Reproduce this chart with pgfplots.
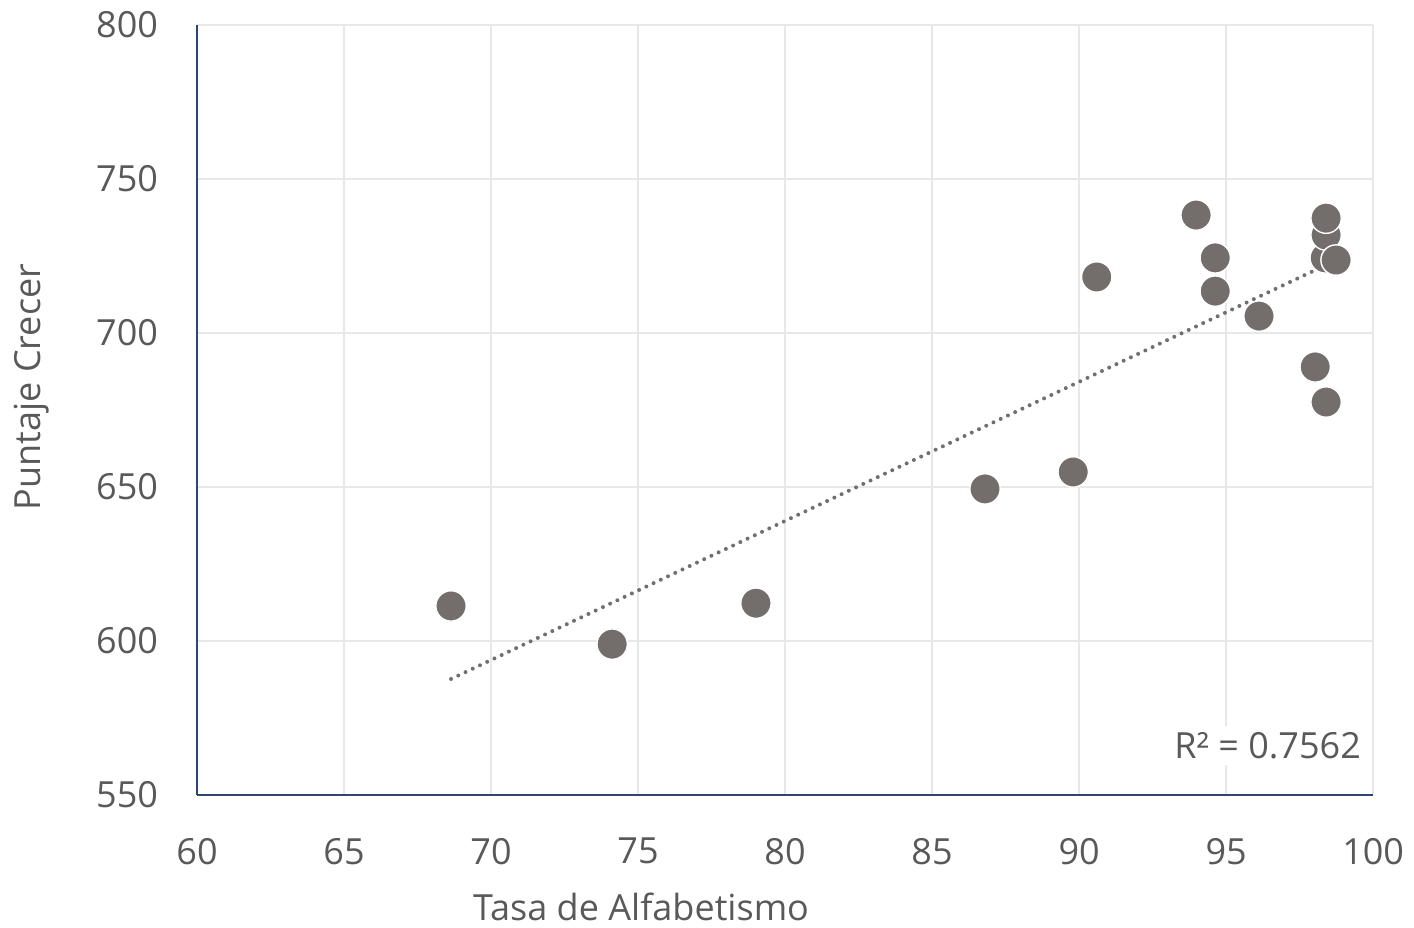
\documentclass[border=0pt]{standalone}
\usepackage{pgfplots}
\pgfplotsset{compat=1.18}
\usepackage{fontspec}
\setmainfont{Open Sans}
\definecolor{txt}{HTML}{595959}
\definecolor{axisblue}{HTML}{2F4675}
\definecolor{gridc}{HTML}{E8E8E8}
\definecolor{markc}{HTML}{736E6C}
\definecolor{trendc}{HTML}{707070}
\begin{document}
\begin{tikzpicture}
\begin{axis}[
  scale only axis,
  width=588pt, height=385pt,
  xmin=60, xmax=100, ymin=550, ymax=800,
  xtick={60,65,...,100}, ytick={550,600,...,800},
  axis x line*=bottom, axis y line*=left,
  axis line style={axisblue, line width=1pt},
  major tick length=0pt,
  grid=major,
  major grid style={gridc, line width=1pt},
  clip=false,
  font=\fontsize{18}{22}\selectfont\color{txt},
  /pgf/number format/assume math mode=true,
  /pgf/number format/1000 sep={},
  xticklabel style={yshift=-18pt},
  yticklabel style={xshift=-16pt},
  xlabel={Tasa de Alfabetismo},
  ylabel={Puntaje Crecer},
  every axis x label/.style={at={(axis description cs:0.3776,-0.1455)}, anchor=center},
  every axis y label/.style={at={(axis description cs:-0.1403,0.53)}, rotate=90, anchor=center},
]
\path (axis cs:53.30,507.14) rectangle (axis cs:101.39,808.12);
\addplot[trendc, line width=2pt, dash pattern=on 0pt off 4pt, line cap=round]
  coordinates {(68.64,587.7) (98.4,722.1)};
\addplot[only marks, mark=*, mark size=7.6pt,
  mark options={fill=markc, draw=white, line width=0.7pt}]
  coordinates {
  (68.64,611.4) (74.12,599.0) (79.01,612.3) (86.80,649.4) (89.80,654.9)
  (90.60,718.2) (93.98,738.3) (94.63,724.4) (94.63,713.6) (96.12,705.5)
  (98.03,689.0) (98.40,677.6) (98.37,724.4) (98.40,731.8) (98.40,737.3)
  (98.74,723.7)};
\node[anchor=east, fill=white, inner sep=3pt, font=\fontsize{18}{22}\selectfont\color{txt}]
  at (axis cs:99.8,566) {R² = 0.7562};
\end{axis}
\end{tikzpicture}
\end{document}
